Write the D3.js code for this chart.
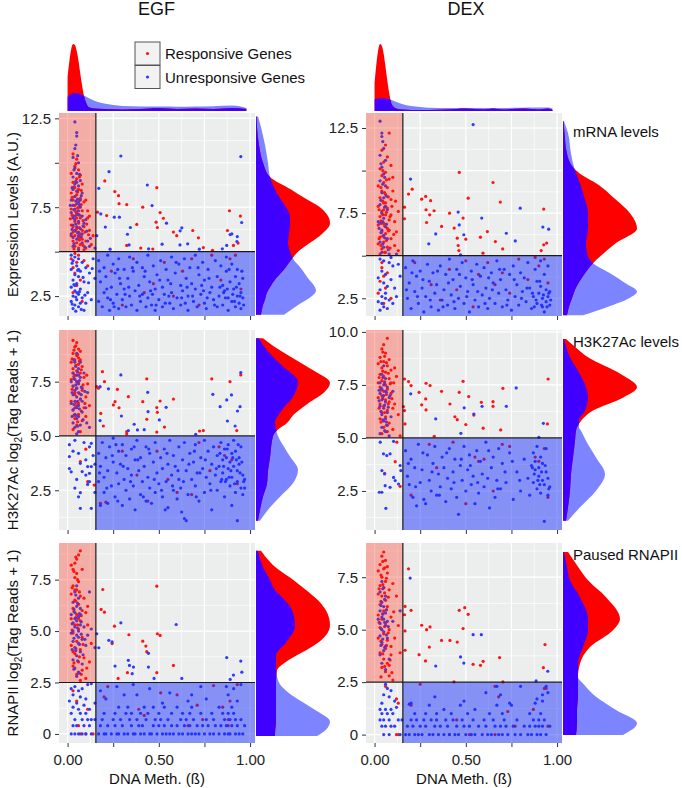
<!DOCTYPE html>
<html>
<head>
<meta charset="utf-8">
<script src="https://cdn.jsdelivr.net/npm/d3@7"></script>
<style>
  body { margin: 0; background: #fff; }
  svg text { font-family: "Liberation Sans", Arial, sans-serif; }
</style>
</head>
<body>
<div id="chart"></div>
<script>
// ---- data ----
var columns = ["EGF", "DEX"];
var rowLabels = ["mRNA levels", "H3K27Ac levels", "Paused RNAPII"];
var legendLabels = ["Responsive Genes", "Unresponsive Genes"];

var xTicks = [0, 0.25, 0.5, 0.75, 1];
var xTickLabels = ["0.00", "", "0.50", "", "1.00"];
var methThreshold = 0.155;

var mrnaTicks = [2.5, 5, 7.5, 10, 12.5];
var mrnaTickLabels = ["2.5", "", "7.5", "", "12.5"];
var egfH3Ticks = [2.5, 5, 7.5];
var egfH3TickLabels = ["2.5", "5.0", "7.5"];
var dexH3Ticks = [2.5, 5, 7.5, 10];
var dexH3TickLabels = ["2.5", "5.0", "7.5", "10.0"];
var polTicks = [0, 2.5, 5, 7.5];
var polTickLabels = ["0", "2.5", "5.0", "7.5"];

// scatter points "meth value" pairs
var egfMrnaRed = "0.03 10.5, 0.05 10.2, 0.04 9.8, 0.06 9.6, 0.02 9.4, 0.07 9.3, 0.05 9.1, 0.03 8.9, 0.08 8.8, 0.04 8.6, 0.06 8.5, 0.02 8.3, 0.05 8.2, 0.07 8.0, 0.03 7.9, 0.09 7.8, 0.04 7.6, 0.06 7.5, 0.02 7.4, 0.08 7.3, 0.05 7.2, 0.03 7.0, 0.07 6.9, 0.11 6.9, 0.04 6.7, 0.06 6.6, 0.02 6.5, 0.09 6.4, 0.05 6.3, 0.03 6.1, 0.07 6.0, 0.12 6.2, 0.04 5.9, 0.06 5.8, 0.08 5.7, 0.03 5.6, 0.05 5.5, 0.10 5.6, 0.07 5.4, 0.04 5.3, 0.13 5.4, 0.06 5.2, 0.09 5.1, 0.11 7.3, 0.10 7.9, 0.12 7.0, 0.08 6.2, 0.06 7.1, 0.04 8.1, 0.05 6.9, 0.03 6.4, 0.07 5.8, 0.02 5.9, 0.10 5.2, 0.14 5.9," +
  "0.045 9.95, 0.065 9.2, 0.035 8.65, 0.055 8.35, 0.075 7.65, 0.025 7.05, 0.085 6.75, 0.045 6.15, 0.065 5.65, 0.035 5.15, 0.095 6.1, 0.055 7.45, 0.015 6.85, 0.105 6.55, 0.075 8.45, 0.045 7.25, 0.065 6.35, 0.025 8.05, 0.085 5.35, 0.115 5.95," +
  "0.02 4.6, 0.05 4.4, 0.04 3.8, 0.07 3.4, 0.03 4.1, 0.06 4.8, 0.09 4.5, 0.05 3.1, 0.03 2.7, 0.08 2.2, 0.04 4.9, 0.11 4.2," +
  "0.204 8.98, 0.259 8.38, 0.279 8.15, 0.282 7.7, 0.324 7.65, 0.164 7.22, 0.214 7.03, 0.379 6.53, 0.412 7.5, 0.489 8.6, 0.485 6.66, 0.507 7.2, 0.525 6.88, 0.492 6.36, 0.58 6.1, 0.598 5.9, 0.686 6.19, 0.717 5.78, 0.744 5.23, 0.794 5.08, 0.876 6.19, 0.887 7.3, 0.947 7.0, 0.934 5.48, 0.909 5.35, 0.324 5.35, 0.401 5.2, 0.467 5.15," +
  "0.24 3.9, 0.3 2.0, 0.36 4.6, 0.42 2.7, 0.47 3.2, 0.53 4.4, 0.58 2.5, 0.63 3.9, 0.68 4.6, 0.72 2.0, 0.79 4.8, 0.84 3.4, 0.89 4.6, 0.92 4.8, 0.95 2.9";
var egfMrnaBlue = "0.04 12.3, 0.05 11.7, 0.05 11.5, 0.04 10.8, 0.03 10.3, 0.06 10.0, 0.04 9.7, 0.05 9.4, 0.03 9.2, 0.07 9.0, 0.04 8.8, 0.06 8.7, 0.03 8.5, 0.05 8.4, 0.08 8.3, 0.04 8.1, 0.02 7.9, 0.06 7.8, 0.05 7.7, 0.03 7.6, 0.07 7.5, 0.04 7.4, 0.06 7.3, 0.02 7.2, 0.05 7.1, 0.08 7.0, 0.03 6.9, 0.04 6.8, 0.06 6.7, 0.09 6.6, 0.03 6.5, 0.05 6.4, 0.07 6.3, 0.04 6.2, 0.02 6.0, 0.06 5.9, 0.05 5.7, 0.08 5.5, 0.03 5.3, 0.06 5.1, 0.11 5.6, 0.12 5.3, 0.15 5.2, 0.10 6.8, 0.07 7.9, 0.05 8.9, 0.04 7.0, 0.06 6.1, 0.03 5.8, 0.08 6.0," +
  "0.045 11.0, 0.055 10.4, 0.035 9.6, 0.065 9.35, 0.045 8.95, 0.025 8.6, 0.075 8.15, 0.055 7.95, 0.035 7.35, 0.065 7.05, 0.045 6.55, 0.085 6.45, 0.025 6.25, 0.055 6.05, 0.075 5.85, 0.035 5.45, 0.095 5.25, 0.065 7.65, 0.045 7.85, 0.105 6.15, 0.015 7.6, 0.125 5.75," +
  "0.02 4.8, 0.04 4.7, 0.06 4.6, 0.03 4.5, 0.08 4.4, 0.05 4.2, 0.10 4.1, 0.02 4.0, 0.07 3.9, 0.04 3.7, 0.12 3.8, 0.06 3.6, 0.03 3.4, 0.09 3.3, 0.05 3.2, 0.02 3.0, 0.07 2.9, 0.04 2.8, 0.11 2.7, 0.06 2.6, 0.03 2.5, 0.08 2.4, 0.05 2.3, 0.02 2.2, 0.10 2.1, 0.04 2.0, 0.06 1.9, 0.03 1.8, 0.13 2.3, 0.15 3.5, 0.14 4.6, 0.05 2.7, 0.07 2.1, 0.09 1.7, 0.04 3.1, 0.06 4.0," +
  "0.025 4.35, 0.055 3.95, 0.085 3.55, 0.035 3.15, 0.065 2.75, 0.045 2.45, 0.095 2.55, 0.025 2.05, 0.075 1.75, 0.115 3.25, 0.135 4.05, 0.045 1.65," +
  "0.292 10.38, 0.227 9.5, 0.171 8.56, 0.437 8.75, 0.463 7.59, 0.182 7.12, 0.256 6.94, 0.207 6.38, 0.344 6.36, 0.328 5.98, 0.542 6.6, 0.626 6.34, 0.617 6.17, 0.518 5.42, 0.616 5.38, 0.658 5.44, 0.722 5.14, 0.848 5.16, 0.872 5.35, 0.891 5.96, 0.9 6.0, 0.93 5.85, 0.928 5.57, 0.954 6.64, 0.949 10.35, 0.337 5.38, 0.16 5.9, 0.233 5.14, 0.444 5.16, 0.284 6.94," +
  "0.17 4.5, 0.17 2.2, 0.18 3.3, 0.19 1.9, 0.2 4.1, 0.2 2.7, 0.21 3.6, 0.22 4.8, 0.22 2.4, 0.23 1.7, 0.24 3.0, 0.25 4.3, 0.25 2.1, 0.26 3.8, 0.27 2.6, 0.28 4.6, 0.28 1.8, 0.29 3.2, 0.3 2.3, 0.31 4.0, 0.31 2.9, 0.32 1.9, 0.33 3.5, 0.34 4.7, 0.34 2.5, 0.35 2.0, 0.36 3.9, 0.37 2.8, 0.38 4.4, 0.38 1.7, 0.39 3.1, 0.4 2.2, 0.41 4.1, 0.41 2.6, 0.42 3.6, 0.43 1.9, 0.44 4.8, 0.44 2.4, 0.45 3.3, 0.46 2.0, 0.47 4.2, 0.48 2.9, 0.48 1.7, 0.49 3.7, 0.5 2.3, 0.51 4.5, 0.52 3.0, 0.52 1.9, 0.53 2.6, 0.54 4.0, 0.55 3.4, 0.56 2.1, 0.57 4.7, 0.57 2.7, 0.58 1.8, 0.59 3.8, 0.6 2.4, 0.61 4.3, 0.62 3.1, 0.62 2.0, 0.63 2.8, 0.64 4.6, 0.65 3.5, 0.66 1.7, 0.66 2.5, 0.67 4.1, 0.68 3.2, 0.69 2.2, 0.7 4.8, 0.7 2.9, 0.71 1.9, 0.72 3.7, 0.73 2.6, 0.74 4.4, 0.75 2.1, 0.75 3.4, 0.76 1.8, 0.77 4.0, 0.78 2.7, 0.79 3.0, 0.8 2.3, 0.81 4.5, 0.82 3.6, 0.82 1.9, 0.83 2.5, 0.84 4.2, 0.85 3.1, 0.85 2.0, 0.86 2.8, 0.87 4.7, 0.87 3.9, 0.88 2.4, 0.88 1.7, 0.89 3.3, 0.9 2.2, 0.9 4.3, 0.91 2.9, 0.92 3.6, 0.92 1.9, 0.93 2.5, 0.93 4.0, 0.94 3.2, 0.94 2.1, 0.95 2.7, 0.95 1.8, 0.96 2.4, 0.96 3.5," +
  "0.175 3.9, 0.215 2.9, 0.255 1.9, 0.285 3.5, 0.315 2.6, 0.355 4.1, 0.395 2.5, 0.425 3.9, 0.465 2.6, 0.505 3.4, 0.535 2.1, 0.565 3.2, 0.595 4.4, 0.625 2.4, 0.655 3.0, 0.685 2.5, 0.715 4.1, 0.745 2.8, 0.775 3.5, 0.805 2.0, 0.835 3.0, 0.865 2.4, 0.885 4.0, 0.905 2.6, 0.925 3.0, 0.945 2.5, 0.955 3.9, 0.965 2.0, 0.915 2.2, 0.875 2.9, 0.235 2.3, 0.335 3.0, 0.455 2.8, 0.555 2.5, 0.645 2.1, 0.735 3.1, 0.855 2.7, 0.275 4.0, 0.485 2.0, 0.765 2.4";

var egfH3Red = "0.03 9.4, 0.05 9.3, 0.04 9.1, 0.06 9.0, 0.03 8.8, 0.07 8.9, 0.05 8.7, 0.04 8.5, 0.02 8.4, 0.06 8.3, 0.08 8.2, 0.03 8.1, 0.05 8.0, 0.07 7.9, 0.04 7.8, 0.09 7.7, 0.02 7.6, 0.06 7.5, 0.03 7.3, 0.05 7.2, 0.08 7.1, 0.04 6.9, 0.07 6.7, 0.02 6.6, 0.05 6.4, 0.09 6.3, 0.03 6.2, 0.06 6.0, 0.04 5.8, 0.08 5.7, 0.05 5.5, 0.03 5.3, 0.07 5.2, 0.1 6.8, 0.11 7.4, 0.12 6.4, 0.06 8.6, 0.04 7.0, 0.06 6.5, 0.10 5.9, 0.03 7.9, 0.07 8.5," +
  "0.045 9.15, 0.035 8.95, 0.055 8.75, 0.025 8.55, 0.065 8.45, 0.045 8.25, 0.075 8.05, 0.035 7.75, 0.055 7.45, 0.085 7.35, 0.025 7.15, 0.065 6.95, 0.045 6.55, 0.075 6.15, 0.035 5.95, 0.055 5.65, 0.095 6.5, 0.105 7.8," +
  "0.07 3.82, 0.11 2.9, 0.146 2.74, 0.1 4.39," +
  "0.191 7.96, 0.202 7.5, 0.16 7.27, 0.169 7.2, 0.273 7.15, 0.333 6.81, 0.26 6.58, 0.251 6.43, 0.282 6.3, 0.182 6.04, 0.196 5.46, 0.324 5.2, 0.324 5.09, 0.412 6.58, 0.434 7.63, 0.434 5.77, 0.489 6.31, 0.492 6.09, 0.507 6.61, 0.531 5.41, 0.489 5.18, 0.58 6.7, 0.723 5.23, 0.744 5.25, 0.79 7.63, 0.89 7.5, 0.927 5.25, 0.949 7.81," +
  "0.18 1.9, 0.21 1.95, 0.3 4.3, 0.38 3.2, 0.44 2.0, 0.49 4.3, 0.55 3.0, 0.6 2.4, 0.68 2.3, 0.72 4.7, 0.78 3.4, 0.83 4.5, 0.86 4.1, 0.9 3.9, 0.93 2.8";
var egfH3Blue = "0.05 8.8, 0.04 8.4, 0.06 8.1, 0.03 7.9, 0.05 7.8, 0.07 7.7, 0.04 7.6, 0.02 7.5, 0.06 7.4, 0.03 7.3, 0.05 7.2, 0.08 7.2, 0.04 7.1, 0.06 7.0, 0.03 6.9, 0.05 6.8, 0.07 6.7, 0.04 6.6, 0.02 6.5, 0.06 6.4, 0.05 6.3, 0.03 6.2, 0.08 6.1, 0.04 6.0, 0.06 5.9, 0.05 5.8, 0.03 5.6, 0.07 5.5, 0.04 5.4, 0.06 5.2, 0.05 5.1, 0.11 7.0, 0.09 7.9, 0.1 6.3, 0.12 5.4, 0.07 8.4, 0.05 7.5, 0.04 6.3, 0.08 6.6, 0.06 7.8," +
  "0.045 8.2, 0.055 7.95, 0.035 7.65, 0.065 7.55, 0.045 7.35, 0.025 7.0, 0.075 6.9, 0.055 6.6, 0.035 6.45, 0.065 6.25, 0.045 5.95, 0.085 5.75, 0.055 5.45, 0.025 5.9, 0.095 7.05, 0.075 7.25, 0.105 5.6, 0.035 8.5," +
  "0.01 4.6, 0.01 4.05, 0.06 4.2, 0.07 3.74, 0.08 3.36, 0.01 3.5, 0.02 3.35, 0.10 3.9, 0.11 3.59, 0.12 3.28, 0.12 2.9, 0.13 3.59, 0.12 4.5, 0.13 4.66, 0.06 2.2, 0.07 2.39, 0.07 1.67, 0.13 1.67, 0.11 2.77, 0.1 3.2, 0.04 4.8, 0.03 4.3, 0.09 4.7, 0.05 3.0, 0.14 4.1, 0.15 3.7, 0.15 2.4, 0.04 2.6," +
  "0.178 7.27, 0.224 7.17, 0.292 7.81, 0.439 7.01, 0.441 6.12, 0.295 5.92, 0.365 5.54, 0.333 5.25, 0.383 5.28, 0.42 5.29, 0.503 5.74, 0.54 6.32, 0.702 5.08, 0.796 6.92, 0.836 6.35, 0.872 6.66, 0.898 6.89, 0.876 5.69, 0.918 5.46, 0.931 6.15, 0.945 6.35, 0.949 7.92, 0.178 5.71," +
  "0.17 4.2, 0.17 2.9, 0.18 3.6, 0.18 1.8, 0.19 4.7, 0.2 3.1, 0.2 2.4, 0.21 4.0, 0.22 3.4, 0.22 1.9, 0.23 4.5, 0.24 2.7, 0.25 3.8, 0.25 4.9, 0.26 2.2, 0.27 3.3, 0.28 4.3, 0.28 2.8, 0.29 3.7, 0.3 1.8, 0.3 4.6, 0.31 3.0, 0.32 2.5, 0.32 4.1, 0.33 3.5, 0.34 2.1, 0.35 4.4, 0.35 3.2, 0.36 2.7, 0.37 3.9, 0.37 1.6, 0.38 4.8, 0.39 3.4, 0.4 2.3, 0.4 4.0, 0.41 2.9, 0.42 3.6, 0.43 4.5, 0.43 2.0, 0.44 3.1, 0.45 2.6, 0.45 4.2, 0.46 1.9, 0.47 3.8, 0.48 2.4, 0.48 4.7, 0.49 3.3, 0.5 2.8, 0.51 4.0, 0.52 3.5, 0.52 2.2, 0.53 4.4, 0.54 2.9, 0.55 3.7, 0.55 1.7, 0.56 4.8, 0.57 3.2, 0.58 2.5, 0.58 4.1, 0.59 3.6, 0.6 2.1, 0.61 4.5, 0.61 3.0, 0.62 2.6, 0.63 3.9, 0.64 1.2, 0.65 1.1, 0.64 4.7, 0.65 3.4, 0.66 2.3, 0.67 4.2, 0.68 3.0, 0.69 3.8, 0.7 2.7, 0.7 4.6, 0.71 3.3, 0.72 2.0, 0.73 4.0, 0.74 3.5, 0.75 2.4, 0.75 4.8, 0.76 3.1, 0.77 4.3, 0.78 2.8, 0.79 1.6, 0.79 3.7, 0.8 4.5, 0.81 3.2, 0.82 2.5, 0.82 4.1, 0.83 3.6, 0.84 4.7, 0.84 2.9, 0.85 3.9, 0.85 3.3, 0.86 4.4, 0.86 2.2, 0.87 3.0, 0.87 4.0, 0.88 3.5, 0.88 4.6, 0.89 2.7, 0.89 3.8, 0.9 4.2, 0.9 3.1, 0.9 1.8, 0.91 3.6, 0.91 4.8, 0.92 2.4, 0.92 4.3, 0.93 3.4, 0.93 1.1, 0.93 2.9, 0.94 4.0, 0.94 3.7, 0.95 2.6, 0.95 4.5, 0.96 3.2, 0.96 2.3, 0.97 3.0, 0.97 2.6," +
  "0.175 3.3, 0.215 2.6, 0.245 4.1, 0.275 2.0, 0.305 3.6, 0.345 2.9, 0.385 3.9, 0.415 2.2, 0.445 4.4, 0.475 3.0, 0.515 2.5, 0.545 4.2, 0.575 2.7, 0.605 3.4, 0.635 2.9, 0.665 3.7, 0.695 4.3, 0.725 3.3, 0.755 3.9, 0.785 2.5, 0.815 3.5, 0.835 4.2, 0.855 3.6, 0.865 2.9, 0.875 4.4, 0.895 3.4, 0.905 4.0, 0.915 2.8, 0.925 3.9, 0.935 4.6, 0.945 3.3, 0.955 3.8, 0.965 2.9, 0.885 3.1, 0.845 3.0, 0.625 1.5, 0.535 1.6, 0.265 4.6, 0.365 4.5, 0.705 2.2";

var egfPolRed = "0.07 8.9, 0.06 8.7, 0.05 8.5, 0.04 8.3, 0.02 8.2, 0.03 8.0, 0.05 7.8, 0.04 7.6, 0.06 7.4, 0.03 7.2, 0.05 7.0, 0.02 6.8, 0.07 6.7, 0.04 6.5, 0.06 6.3, 0.03 6.1, 0.08 6.0, 0.05 5.8, 0.02 5.6, 0.07 5.5, 0.04 5.3, 0.1 5.9, 0.11 5.3, 0.06 5.1, 0.03 4.9, 0.08 4.7, 0.05 4.5, 0.02 4.3, 0.07 4.1, 0.04 3.9, 0.09 3.7, 0.06 3.5, 0.03 3.3, 0.08 3.1, 0.05 2.9, 0.1 2.7, 0.07 2.6, 0.12 3.5, 0.13 4.4, 0.09 6.6, 0.04 7.0, 0.06 5.6, 0.03 4.0, 0.11 6.2, 0.08 8.0," +
  "0.045 8.6, 0.035 7.9, 0.055 7.5, 0.025 7.1, 0.065 6.9, 0.045 6.45, 0.035 5.95, 0.075 5.75, 0.055 5.3, 0.025 5.05, 0.085 4.35, 0.045 4.15, 0.065 3.75, 0.035 3.45, 0.075 2.9, 0.105 3.2," +
  "0.03 2.1, 0.05 1.6, 0.06 0.4, 0.07 0, 0.11 1.2, 0.1 0, 0.14 0," +
  "0.193 7.02, 0.184 6.05, 0.202 5.92, 0.489 7.18, 0.257 5.24, 0.244 4.39, 0.336 4.82, 0.412 4.51, 0.429 4.27, 0.434 4.0, 0.492 4.87, 0.507 4.79, 0.58 3.33, 0.328 2.98, 0.277 2.7, 0.489 2.98," +
  "0.2 1.8, 0.22 2.3, 0.39 1.2, 0.42 0.9, 0.51 2.0, 0.6 1.9, 0.66 0.4, 0.71 1.4, 0.74 0.7, 0.8 2.35, 0.85 1.3, 0.88 0.7, 0.89 1.6, 0.93 2.4, 0.88 0.4";
var egfPolBlue = "0.05 7.2, 0.04 6.9, 0.06 6.6, 0.03 6.4, 0.05 6.2, 0.07 6.1, 0.04 5.9, 0.02 5.8, 0.06 5.7, 0.05 5.5, 0.03 5.4, 0.07 5.3, 0.04 5.2, 0.06 5.0, 0.02 4.9, 0.05 4.8, 0.08 4.6, 0.03 4.5, 0.06 4.4, 0.04 4.2, 0.07 4.0, 0.05 3.8, 0.03 3.6, 0.08 3.4, 0.04 3.2, 0.06 3.0, 0.05 2.8, 0.1 4.3, 0.12 6.9, 0.09 5.2, 0.11 4.8, 0.13 5.1, 0.07 5.8, 0.04 5.6, 0.06 4.7, 0.03 5.0, 0.15 4.2," +
  "0.045 6.75, 0.055 6.35, 0.035 6.05, 0.065 5.85, 0.045 5.65, 0.025 5.35, 0.055 5.15, 0.075 4.85, 0.035 4.65, 0.065 4.35, 0.045 4.05, 0.085 3.85, 0.055 3.55, 0.035 3.15, 0.065 2.95, 0.095 4.6, 0.025 4.1, 0.075 5.45," +
  "0.02 2.2, 0.04 2.3, 0.06 2.1, 0.08 2.2, 0.11 2.4, 0.13 2.45, 0.03 1.9, 0.07 1.8, 0.1 1.7, 0.01 1.6, 0.05 1.5, 0.09 1.4, 0.03 1.3, 0.06 1.2, 0.12 1.2, 0.02 1, 0.07 1, 0.1 1, 0.13 0.7, 0.04 0.7, 0.08 0.7, 0.11 0.7, 0.03 0.4, 0.05 0.4, 0.09 0.4, 0.12 0.4, 0.02 0, 0.04 0, 0.06 0, 0.08 0, 0.1 0, 0.13 0, 0.15 0.7, 0.15 1.5," +
  "0.16 4.87, 0.171 4.19, 0.226 4.55, 0.244 4.47, 0.292 5.4, 0.26 3.3, 0.333 3.58, 0.339 3.33, 0.361 3.25, 0.354 2.93, 0.443 3.25, 0.443 3.92, 0.474 2.7, 0.595 5.32, 0.626 2.7, 0.872 3.71, 0.949 3.54, 0.955 3.0, 0.909 2.86, 0.891 2.65," +
  "0.17 0, 0.2 0, 0.21 0, 0.24 0, 0.27 0, 0.28 0, 0.31 0, 0.33 0, 0.36 0, 0.37 0, 0.4 0, 0.42 0, 0.45 0, 0.46 0, 0.49 0, 0.52 0, 0.54 0, 0.56 0, 0.58 0, 0.61 0, 0.63 0, 0.66 0, 0.68 0, 0.7 0, 0.72 0, 0.75 0, 0.78 0, 0.8 0, 0.83 0, 0.86 0, 0.88 0, 0.89 0, 0.92 0, 0.94 0, 0.96 0," +
  "0.18 0.4, 0.22 0.4, 0.26 0.4, 0.3 0.4, 0.35 0.4, 0.39 0.4, 0.41 0.4, 0.47 0.4, 0.5 0.4, 0.53 0.4, 0.57 0.4, 0.6 0.4, 0.64 0.4, 0.67 0.4, 0.71 0.4, 0.74 0.4, 0.77 0.4, 0.81 0.4, 0.84 0.4, 0.87 0.4, 0.9 0.4, 0.93 0.4, 0.97 0.4," +
  "0.19 0.7, 0.25 0.7, 0.29 0.7, 0.34 0.7, 0.38 0.7, 0.43 0.7, 0.48 0.7, 0.51 0.7, 0.55 0.7, 0.62 0.7, 0.65 0.7, 0.69 0.7, 0.76 0.7, 0.8 0.7, 0.86 0.7, 0.89 0.7, 0.92 0.7, 0.95 0.7," +
  "0.2 1, 0.26 1, 0.32 1, 0.35 1, 0.4 1, 0.44 1, 0.5 1, 0.57 1, 0.63 1, 0.67 1, 0.73 1, 0.79 1, 0.85 1, 0.88 1, 0.91 1," +
  "0.28 1.3, 0.33 1.3, 0.42 1.3, 0.47 1.3, 0.53 1.3, 0.6 1.3, 0.68 1.3, 0.83 1.3, 0.9 1.3," +
  "0.18 2.1, 0.21 1.7, 0.27 2.3, 0.31 1.9, 0.36 2.4, 0.38 1.9, 0.45 2.2, 0.52 1.5, 0.56 2.0, 0.66 1.6, 0.68 1.9, 0.73 2.3, 0.76 1.7, 0.87 2.3, 0.88 1.9, 0.91 2.2, 0.93 1.6, 0.95 2.4";

var dexMrnaRed = "0.08 12.2, 0.06 11.5, 0.04 11.2, 0.07 10.8, 0.05 10.5, 0.09 10.3, 0.03 10.1, 0.06 9.9, 0.04 9.7, 0.08 9.5, 0.05 9.3, 0.02 9.1, 0.07 9.0, 0.04 8.8, 0.06 8.6, 0.03 8.4, 0.09 8.3, 0.05 8.1, 0.02 7.9, 0.07 7.8, 0.04 7.6, 0.06 7.4, 0.03 7.3, 0.08 7.1, 0.05 6.9, 0.02 6.8, 0.07 6.6, 0.04 6.4, 0.06 6.3, 0.03 6.1, 0.09 6.0, 0.05 5.8, 0.02 5.7, 0.07 5.5, 0.04 5.4, 0.06 5.2, 0.03 5.1, 0.11 7.0, 0.12 6.4, 0.13 7.6, 0.1 8.8, 0.11 5.6, 0.13 5.3, 0.08 6.5, 0.05 7.7, 0.1 9.6, 0.04 6.9, 0.06 8.1, 0.09 7.4," +
  "0.045 10.0, 0.065 9.45, 0.035 9.0, 0.055 8.7, 0.075 8.45, 0.045 8.2, 0.025 7.7, 0.065 7.55, 0.085 7.3, 0.035 7.05, 0.055 6.75, 0.075 6.45, 0.045 6.15, 0.025 6.0, 0.065 5.9, 0.035 5.6, 0.085 5.45, 0.055 5.2, 0.105 6.25, 0.095 7.9, 0.115 8.2, 0.045 7.4," +
  "0.04 4.6, 0.04 4.3, 0.05 3.8, 0.03 3.5, 0.06 3.1, 0.02 2.8, 0.07 4.0, 0.09 2.5, 0.05 2.2," +
  "0.464 9.89, 0.649 9.3, 0.186 8.62, 0.206 8.91, 0.258 8.32, 0.28 8.48, 0.307 8.23, 0.513 8.38, 0.689 8.15, 0.164 7.85, 0.282 7.7, 0.302 7.4, 0.326 7.64, 0.164 7.17, 0.285 6.95, 0.367 6.72, 0.411 7.5, 0.436 6.62, 0.485 7.21, 0.453 6.03, 0.458 5.6, 0.462 5.3, 0.5 5.97, 0.58 6.09, 0.618 6.42, 0.662 5.83, 0.702 5.4, 0.594 5.15, 0.927 7.74, 0.927 5.64, 0.943 5.74, 0.913 5.3," +
  "0.22 4.6, 0.31 3.3, 0.36 2.4, 0.41 4.2, 0.45 3.0, 0.5 4.7, 0.54 2.0, 0.57 3.9, 0.62 4.6, 0.66 3.3, 0.7 4.0, 0.74 2.8, 0.79 4.8, 0.84 3.6, 0.88 4.9, 0.9 4.4, 0.93 4.8, 0.95 3.4";
var dexMrnaBlue = "0.03 12.9, 0.04 12.2, 0.04 12.0, 0.05 11.3, 0.03 10.9, 0.06 10.6, 0.04 10.2, 0.05 9.8, 0.03 9.4, 0.06 9.1, 0.04 8.7, 0.05 8.4, 0.03 8.0, 0.07 7.7, 0.04 7.5, 0.05 7.2, 0.03 6.9, 0.06 6.7, 0.04 6.5, 0.05 6.2, 0.07 6.0, 0.03 5.8, 0.05 5.5, 0.04 5.2, 0.08 5.1, 0.12 5.1, 0.06 7.9, 0.02 7.0," +
  "0.045 11.7, 0.035 10.4, 0.055 9.6, 0.045 9.2, 0.065 8.5, 0.035 8.25, 0.055 7.85, 0.045 7.0, 0.065 6.85, 0.035 6.35, 0.055 6.05, 0.045 5.7, 0.075 5.35, 0.025 6.6," +
  "0.03 4.8, 0.05 4.7, 0.08 4.6, 0.1 4.4, 0.04 4.1, 0.06 3.9, 0.02 3.7, 0.09 3.6, 0.05 3.4, 0.07 3.2, 0.03 3.0, 0.11 3.1, 0.06 2.8, 0.04 2.6, 0.08 2.4, 0.02 2.3, 0.1 2.2, 0.05 2.0, 0.07 1.9, 0.03 1.8, 0.12 2.6, 0.14 3.8, 0.13 4.5, 0.06 2.5, 0.04 2.2, 0.09 4.9," +
  "0.54 12.7, 0.197 9.5, 0.458 7.56, 0.464 6.81, 0.489 6.23, 0.587 7.21, 0.722 6.32, 0.771 5.87, 0.798 7.79, 0.922 6.68, 0.954 6.56, 0.335 6.28, 0.297 5.7, 0.471 5.05," +
  "0.17 4.3, 0.18 2.5, 0.19 3.4, 0.2 1.9, 0.21 4.7, 0.22 2.9, 0.23 3.8, 0.24 2.2, 0.25 4.1, 0.26 3.1, 0.27 1.7, 0.28 2.6, 0.29 4.5, 0.3 3.5, 0.31 2.0, 0.32 4.0, 0.33 2.8, 0.34 3.3, 0.35 1.8, 0.36 4.4, 0.37 2.4, 0.38 3.0, 0.39 3.9, 0.4 2.1, 0.41 4.8, 0.42 2.7, 0.43 3.6, 0.44 1.9, 0.45 4.2, 0.46 2.5, 0.47 3.2, 0.48 4.6, 0.49 2.2, 0.5 3.7, 0.51 2.9, 0.52 1.7, 0.53 4.1, 0.54 3.3, 0.55 2.4, 0.56 4.5, 0.57 2.0, 0.58 3.8, 0.59 2.7, 0.6 4.3, 0.61 3.1, 0.62 1.9, 0.63 2.5, 0.64 4.0, 0.65 3.4, 0.66 2.2, 0.67 4.7, 0.68 2.8, 0.69 3.6, 0.7 2.0, 0.71 4.2, 0.72 3.0, 0.73 2.4, 0.74 3.9, 0.75 1.8, 0.76 4.4, 0.77 2.6, 0.78 3.3, 0.79 2.1, 0.8 4.0, 0.81 2.9, 0.82 3.7, 0.83 2.3, 0.84 4.6, 0.85 3.1, 0.86 1.9, 0.87 2.6, 0.88 4.2, 0.89 3.5, 0.89 2.2, 0.9 2.8, 0.91 4.7, 0.91 3.2, 0.92 2.0, 0.92 2.5, 0.93 3.9, 0.93 1.7, 0.94 2.3, 0.94 3.0, 0.95 2.6, 0.95 4.4, 0.96 2.1, 0.96 2.9," +
  "0.175 3.0, 0.205 4.0, 0.235 2.6, 0.265 3.6, 0.305 2.4, 0.345 4.1, 0.375 2.0, 0.405 3.4, 0.435 2.3, 0.465 3.9, 0.505 2.6, 0.535 3.6, 0.565 2.9, 0.605 2.2, 0.645 3.0, 0.685 4.2, 0.725 2.1, 0.765 3.6, 0.805 2.5, 0.835 3.1, 0.865 2.8, 0.885 2.4, 0.905 3.5, 0.925 2.7, 0.945 2.0, 0.955 2.8, 0.965 2.4, 0.915 2.1, 0.875 2.0, 0.625 3.7";

var dexH3Red = "0.07 9.7, 0.05 9.4, 0.04 9.2, 0.06 9.0, 0.03 8.8, 0.08 8.7, 0.05 8.6, 0.02 8.5, 0.07 8.4, 0.04 8.3, 0.09 8.2, 0.06 8.1, 0.03 8.0, 0.05 7.9, 0.08 7.8, 0.04 7.7, 0.02 7.6, 0.06 7.5, 0.03 7.4, 0.07 7.3, 0.05 7.2, 0.09 7.1, 0.04 7.0, 0.02 6.9, 0.06 6.8, 0.08 6.7, 0.03 6.6, 0.05 6.5, 0.07 6.3, 0.04 6.2, 0.1 6.4, 0.06 6.0, 0.03 5.9, 0.08 5.7, 0.05 5.5, 0.07 5.3, 0.04 5.2, 0.12 7.9, 0.11 6.6, 0.13 6.1, 0.1 5.4, 0.14 5.1, 0.11 8.3, 0.09 7.6," +
  "0.045 9.05, 0.055 8.85, 0.035 8.6, 0.065 8.55, 0.045 8.15, 0.075 8.05, 0.025 7.85, 0.055 7.65, 0.085 7.55, 0.035 7.25, 0.065 7.05, 0.045 6.85, 0.075 6.6, 0.025 6.4, 0.055 6.2, 0.035 5.75, 0.095 6.85, 0.105 7.6, 0.065 5.6," +
  "0.055 3.33, 0.113 3.88, 0.14 2.72, 0.122 4.8," +
  "0.164 7.78, 0.186 7.66, 0.2 7.47, 0.244 7.15, 0.282 7.58, 0.304 7.47, 0.367 7.2, 0.28 6.84, 0.258 6.56, 0.282 6.32, 0.158 6.48, 0.164 6.29, 0.167 5.66, 0.413 6.6, 0.464 7.15, 0.485 7.67, 0.516 6.95, 0.44 6.0, 0.453 5.86, 0.5 5.63, 0.544 6.08, 0.585 6.68, 0.595 5.46, 0.649 6.71, 0.649 6.49, 0.703 7.34, 0.691 5.38, 0.951 7.78, 0.947 5.66, 0.327 5.08," +
  "0.2 2.3, 0.3 4.7, 0.34 3.6, 0.43 4.8, 0.5 1.9, 0.55 4.1, 0.57 3.9, 0.6 4.0, 0.65 2.5, 0.7 4.7, 0.74 4.6, 0.88 4.1, 0.9 3.9, 0.93 4.5, 0.95 2.2";
var dexH3Blue = "0.05 8.4, 0.04 8.0, 0.06 7.8, 0.03 7.6, 0.05 7.5, 0.07 7.4, 0.04 7.3, 0.06 7.2, 0.03 7.1, 0.05 7.0, 0.08 6.9, 0.04 6.8, 0.06 6.7, 0.03 6.5, 0.05 6.4, 0.07 6.2, 0.04 6.1, 0.06 5.9, 0.05 5.8, 0.07 5.6, 0.04 5.5, 0.06 5.3, 0.03 5.2, 0.08 5.1, 0.09 6.0, 0.1 7.2," +
  "0.045 7.85, 0.055 7.6, 0.035 7.35, 0.065 7.15, 0.045 6.95, 0.025 6.75, 0.055 6.55, 0.075 6.45, 0.035 6.25, 0.045 5.85, 0.065 5.75, 0.055 5.35, 0.085 7.0, 0.025 7.25," +
  "0.031 4.8, 0.049 4.25, 0.067 4.17, 0.085 4.25, 0.04 3.46, 0.055 3.3, 0.104 3.14, 0.113 2.99, 0.14 3.7, 0.144 3.46, 0.026 2.44, 0.04 2.44, 0.058 2.75, 0.085 2.67, 0.131 2.83, 0.062 1.68, 0.104 4.84," +
  "0.198 7.08, 0.335 5.9, 0.491 6.42, 0.544 6.13, 0.589 6.49, 0.722 6.49, 0.776 7.36, 0.473 5.22, 0.925 5.69, 0.9 5.03," +
  "0.17 4.4, 0.18 3.2, 0.19 2.8, 0.2 4.0, 0.21 2.2, 0.22 3.6, 0.23 1.8, 0.24 4.7, 0.25 2.9, 0.26 3.5, 0.27 2.1, 0.28 1.9, 0.29 4.2, 0.3 3.0, 0.31 2.5, 0.32 3.8, 0.33 4.6, 0.34 2.3, 0.35 3.3, 0.36 2.7, 0.37 4.1, 0.38 3.6, 0.39 2.0, 0.4 3.1, 0.41 4.5, 0.42 2.6, 0.43 3.4, 0.44 4.0, 0.45 2.2, 0.46 1.4, 0.47 3.7, 0.48 3.0, 0.49 4.6, 0.5 2.5, 0.51 3.5, 0.52 4.2, 0.53 2.8, 0.54 3.2, 0.55 1.9, 0.56 4.4, 0.57 2.4, 0.58 3.9, 0.59 3.3, 0.6 2.7, 0.61 4.8, 0.62 3.1, 0.63 1.7, 0.64 3.6, 0.65 4.1, 0.66 2.2, 0.67 3.0, 0.68 4.5, 0.69 2.6, 0.7 3.8, 0.72 2.9, 0.74 4.3, 0.76 2.1, 0.78 3.4, 0.8 2.5, 0.82 4.0, 0.84 3.1, 0.85 2.3, 0.86 3.7, 0.87 4.3, 0.87 2.9, 0.88 3.5, 0.88 3.9, 0.89 2.6, 0.89 4.6, 0.9 3.2, 0.9 3.6, 0.91 2.4, 0.91 4.1, 0.92 3.0, 0.92 3.8, 0.93 1.07, 0.93 2.8, 0.94 3.4, 0.94 4.5, 0.95 2.3, 0.95 3.1, 0.96 2.7," +
  "0.185 3.8, 0.225 2.7, 0.265 4.3, 0.315 3.4, 0.355 2.3, 0.395 4.3, 0.435 2.9, 0.475 4.0, 0.525 3.7, 0.565 2.9, 0.625 4.4, 0.675 2.6, 0.715 3.4, 0.755 3.9, 0.795 3.0, 0.875 3.3, 0.895 3.0, 0.915 3.4, 0.935 3.7, 0.955 2.6, 0.865 3.6, 0.905 2.8";

var dexPolRed = "0.05 8.7, 0.04 8.5, 0.06 8.3, 0.03 8.1, 0.05 7.9, 0.02 7.8, 0.07 7.7, 0.04 7.5, 0.06 7.3, 0.03 7.1, 0.05 7.0, 0.08 6.9, 0.02 6.7, 0.04 6.6, 0.06 6.4, 0.03 6.2, 0.07 6.1, 0.05 5.9, 0.02 5.7, 0.09 5.6, 0.04 5.5, 0.06 5.3, 0.03 5.1, 0.08 5.0, 0.05 4.8, 0.02 4.6, 0.07 4.5, 0.04 4.3, 0.06 4.1, 0.03 3.9, 0.09 3.8, 0.05 3.6, 0.07 3.4, 0.04 3.2, 0.06 3.0, 0.08 2.8, 0.1 2.6, 0.11 4.6, 0.13 5.2, 0.12 6.6, 0.1 7.2, 0.09 4.2, 0.14 3.9, 0.07 8.0, 0.08 3.3," +
  "0.045 8.25, 0.055 7.95, 0.035 7.6, 0.065 7.45, 0.045 7.15, 0.025 6.95, 0.055 6.75, 0.075 6.55, 0.035 6.35, 0.065 5.95, 0.045 5.75, 0.025 5.35, 0.055 5.15, 0.075 4.85, 0.035 4.45, 0.065 4.25, 0.045 3.85, 0.085 3.55, 0.055 3.25, 0.095 2.95, 0.035 2.75, 0.105 5.85," +
  "0.06 2.3, 0.12 1.7, 0.13 1.5, 0.12 0, 0.13 0," +
  "0.186 7.9, 0.164 5.71, 0.2 5.92, 0.167 6.11, 0.167 4.94, 0.167 4.02, 0.244 3.81, 0.258 5.21, 0.285 5.0, 0.304 5.13, 0.279 3.51, 0.3 4.17, 0.367 4.49, 0.413 4.49, 0.453 4.41, 0.464 5.92, 0.485 5.05, 0.494 6.05, 0.513 5.73, 0.54 3.35, 0.58 3.3, 0.595 3.49, 0.685 3.67, 0.435 2.51, 0.703 2.51, 0.934 4.29, 0.925 3.19," +
  "0.2 1.4, 0.25 2.4, 0.41 0, 0.45 0.7, 0.52 0, 0.66 2.3, 0.66 0, 0.68 1.8, 0.73 1.1, 0.77 0.4, 0.87 1.2, 0.93 2.2, 0.94 2.2, 0.95 0.4";
var dexPolBlue = "0.04 7.3, 0.05 7.0, 0.03 6.8, 0.06 6.6, 0.04 6.3, 0.05 6.1, 0.03 5.9, 0.06 5.8, 0.04 5.6, 0.05 5.5, 0.07 5.4, 0.03 5.3, 0.06 5.2, 0.04 5.0, 0.05 4.9, 0.03 4.7, 0.07 4.6, 0.04 4.4, 0.06 4.2, 0.05 4.0, 0.03 3.8, 0.08 3.6, 0.04 3.4, 0.06 3.1, 0.1 5.4, 0.14 5.9, 0.02 5.5," +
  "0.045 6.95, 0.055 6.45, 0.035 6.15, 0.065 5.95, 0.045 5.75, 0.055 5.35, 0.035 5.05, 0.065 4.75, 0.045 4.55, 0.055 4.15, 0.035 4.25, 0.075 5.15," +
  "0.06 2.4, 0.07 2.2, 0.09 2.1, 0.05 1.9, 0.08 1.8, 0.11 1.6, 0.04 1.5, 0.06 1.2, 0.09 1.2, 0.03 1.2, 0.12 1.3, 0.04 1, 0.07 1, 0.1 1, 0.03 0.7, 0.05 0.7, 0.08 0.7, 0.13 0.7, 0.04 0.4, 0.06 0.4, 0.09 0.4, 0.11 0.4, 0.05 0, 0.08 0, 0.14 0, 0.15 0.7," +
  "0.195 7.46, 0.335 3.27, 0.471 3.7, 0.489 3.41, 0.54 4.76, 0.585 4.76, 0.949 3.02, 0.885 2.56," +
  "0.17 0, 0.19 0, 0.22 0, 0.24 0, 0.26 0, 0.3 0, 0.32 0, 0.35 0, 0.38 0, 0.41 0, 0.44 0, 0.46 0, 0.5 0, 0.53 0, 0.55 0, 0.59 0, 0.62 0, 0.64 0, 0.68 0, 0.7 0, 0.73 0, 0.77 0, 0.8 0, 0.84 0, 0.86 0, 0.89 0, 0.91 0, 0.94 0," +
  "0.18 0.4, 0.21 0.4, 0.25 0.4, 0.28 0.4, 0.33 0.4, 0.36 0.4, 0.4 0.4, 0.45 0.4, 0.49 0.4, 0.52 0.4, 0.57 0.4, 0.61 0.4, 0.66 0.4, 0.69 0.4, 0.72 0.4, 0.76 0.4, 0.82 0.4, 0.85 0.4, 0.88 0.4, 0.9 0.4, 0.92 0.4, 0.96 0.4," +
  "0.2 0.7, 0.23 0.7, 0.27 0.7, 0.31 0.7, 0.34 0.7, 0.39 0.7, 0.43 0.7, 0.48 0.7, 0.54 0.7, 0.6 0.7, 0.65 0.7, 0.71 0.7, 0.78 0.7, 0.87 0.7, 0.9 0.7, 0.93 0.7," +
  "0.22 1, 0.28 1, 0.34 1, 0.42 1, 0.51 1, 0.63 1, 0.7 1, 0.85 1, 0.91 1," +
  "0.19 1.45, 0.3 1.4, 0.38 1.2, 0.47 1.4, 0.55 1.2, 0.67 1.4, 0.75 1.4, 0.88 1.5, 0.92 1.6," +
  "0.2 1.5, 0.33 1.8, 0.49 1.6, 0.61 2.0, 0.67 2.3, 0.69 1.9, 0.74 1.5, 0.8 2.3, 0.89 1.7, 0.92 1.9, 0.94 2.3, 0.95 2.0";

// marginal densities [position, density]
var egfTopRed = [[0,34],[0.01,50],[0.02,62],[0.03,67],[0.04,66],[0.05,60],[0.06,50],[0.07,37],[0.08,25],[0.09,15],[0.1,9],[0.11,5],[0.12,3.5],[0.15,2.5],[0.2,2],[0.3,1.5],[0.4,2],[0.5,3],[0.6,2],[0.7,2.5],[0.8,2],[0.9,3],[0.98,2]];
var egfTopBlue = [[0,14],[0.02,17],[0.04,18],[0.06,17.5],[0.08,16],[0.1,14.5],[0.12,12.5],[0.15,10],[0.2,7.5],[0.25,6],[0.3,5],[0.4,4.5],[0.5,4.5],[0.6,4.3],[0.7,4.5],[0.8,4.8],[0.9,5.5],[0.95,4.5],[0.98,3]];
var dexTopRed = [[0,28],[0.01,47],[0.02,61],[0.03,67],[0.04,65],[0.05,57],[0.06,44],[0.07,30],[0.08,18],[0.09,9],[0.1,5],[0.12,2.5],[0.15,1.5],[0.2,1],[0.3,1],[0.4,1.5],[0.5,2.5],[0.6,1.5],[0.65,2.5],[0.7,1.5],[0.82,2.5],[0.9,1.5],[0.95,2.5],[0.975,1]];
var dexTopBlue = [[0,12],[0.02,12.5],[0.04,12.8],[0.06,12.5],[0.08,12],[0.1,10.5],[0.12,9],[0.15,7],[0.2,5],[0.25,4],[0.3,3.2],[0.4,3],[0.5,3],[0.6,3],[0.7,3],[0.8,3.2],[0.9,3.5],[0.95,3.5],[0.975,2.5]];

var egfMrnaRedD = [[12.6,0.5],[12,1],[11,3],[10,7],[9.2,14],[8.5,35],[8,49],[7.5,64],[7,72],[6.6,74],[6,66],[5.5,54],[5,42],[4.6,36],[4,28],[3.5,20],[3,14],[2.7,11],[2.3,9],[2,7],[1.45,5]];
var egfMrnaBlueD = [[12.6,2],[12,5],[11,9],[10,12],[9.2,14],[8.5,19],[8,24],[7.5,30],[7,34],[6.6,34],[6,33],[5.5,32],[5,34],[4.6,37],[4,46],[3.5,52],[3,59],[2.8,60],[2.5,56],[2,42],[1.45,28]];
var egfH3RedD = [[9.5,7],[9,22],[8.5,40],[8,58],[7.45,74],[7,68],[6.5,52],[6,38],[5.6,31],[5.3,22],[5,17],[4,14],[3.4,12],[2.8,11],[2.2,7],[1.6,4],[1.1,2]];
var egfH3BlueD = [[9.5,3],[9,10],[8.65,17],[8.2,27],[7.5,42],[6.8,37],[6.2,26],[5.6,19],[5.3,20],[5,22],[4.5,28],[4.05,34],[3.43,42],[2.82,37],[2.2,24],[1.6,12],[1.1,4]];
var egfPolRedD = [[8.9,5],[8,22],[7.5,37],[7,50],[6.5,62],[6,70],[5.3,74],[4.8,70],[4.3,58],[3.8,40],[3.4,27],[3.1,21],[2.5,20],[1.8,20],[1.2,20],[0.6,20],[0,19],[-0.1,19]];
var egfPolBlueD = [[8.9,2],[8,8],[7.5,14],[7,19],[6.7,25],[5.9,37],[5.24,39],[4.44,30],[3.8,20],[3.14,20],[2.5,23],[1.84,37],[1.2,58],[0.6,74],[0.2,70],[-0.1,61]];
var dexMrnaRedD = [[12.9,0.5],[12.2,1.5],[11,4],[10.2,10],[9.7,20],[9.26,33],[8.28,53],[7.5,67],[6.6,74],[5.74,53],[4.95,37],[4.56,30],[3.97,22],[3,12],[2.5,9],[2,6],[1.5,4]];
var dexMrnaBlueD = [[12.9,1],[12.2,5],[11,8],[10.2,11],[9.7,14],[9.26,17],[8.28,22],[7.5,25],[6.6,25],[5.74,23],[4.95,25],[4.56,30],[3.97,47],[3.4,62],[2.9,74],[2.5,66],[2,45],[1.5,20]];
var dexH3RedD = [[9.67,3],[9.3,12],[8.8,25],[8,58],[7.39,74],[6.9,60],[6.29,30],[5.8,18],[5.5,14],[5.34,13],[4.87,12],[4.08,10],[3.3,8],[2.51,7],[1.73,5],[1.1,3]];
var dexH3BlueD = [[9.67,1],[9.3,3],[8.8,7],[8,17],[7.39,23],[6.9,25],[6.29,22],[5.8,16],[5.5,16],[5.34,18],[4.87,23],[4.08,33],[3.3,42],[2.51,33],[1.73,17],[1.1,5]];
var dexPolRedD = [[8.7,5],[8,15],[7.35,25],[6.55,43],[5.52,57],[4.97,50],[4.17,27],[3.38,17],[2.74,15],[2.43,15],[1.8,15],[1.17,14],[0.54,14],[-0.02,13]];
var dexPolBlueD = [[8.7,1],[8,4],[7.35,7],[6.55,17],[5.52,25],[4.97,25],[4.17,20],[3.38,15],[2.74,15],[2.43,20],[1.8,33],[1.17,53],[0.54,74],[-0.02,60]];

// ---- layout ----
var colLayout = [
    { x0: 59,  x1: 255, margX: 256, titleX: 156.5 },
    { x0: 366, x1: 562, margX: 563, titleX: 466 }
];
var rowLayout = [ { y0: 113, y1: 316 }, { y0: 330, y1: 530 }, { y0: 543, y1: 743 } ];
var xDomain = [-0.047, 1.027];

var RED = "#ff1414", BLUE = "#2e3bff", DARK = "#4000ff", LIGHT = "#7c84ff";
var PANEL_BG = "#eceeee";

var parsePts = function(s) {
    return s.split(",").map(function(p) { return p.trim().split(/\s+/).map(Number); });
};

var panels = [
    { col: 0, row: 0, yDomain: [1.38, 12.8], ticks: mrnaTicks, labels: mrnaTickLabels, thr: 5, red: egfMrnaRed, blue: egfMrnaBlue, dRed: egfMrnaRedD, dBlue: egfMrnaBlueD },
    { col: 0, row: 1, yDomain: [0.67, 9.88], ticks: egfH3Ticks, labels: egfH3TickLabels, thr: 5, red: egfH3Red, blue: egfH3Blue, dRed: egfH3RedD, dBlue: egfH3BlueD },
    { col: 0, row: 2, yDomain: [-0.44, 9.28], ticks: polTicks, labels: polTickLabels, thr: 2.5, red: egfPolRed, blue: egfPolBlue, dRed: egfPolRedD, dBlue: egfPolBlueD },
    { col: 1, row: 0, yDomain: [1.46, 13.38], ticks: mrnaTicks, labels: mrnaTickLabels, thr: 5, red: dexMrnaRed, blue: dexMrnaBlue, dRed: dexMrnaRedD, dBlue: dexMrnaBlueD },
    { col: 1, row: 1, yDomain: [0.66, 10.09], ticks: dexH3Ticks, labels: dexH3TickLabels, thr: 5, red: dexH3Red, blue: dexH3Blue, dRed: dexH3RedD, dBlue: dexH3BlueD },
    { col: 1, row: 2, yDomain: [-0.40, 9.13], ticks: polTicks, labels: polTickLabels, thr: 2.5, red: dexPolRed, blue: dexPolBlue, dRed: dexPolRedD, dBlue: dexPolBlueD }
];

var svg = d3.select("#chart").append("svg")
    .attr("width", 682)
    .attr("height", 788);

// density width scale (right marginals) and height scale (top marginals)
var densW = d3.scaleLinear().domain([0, 74]).range([0, 74]);
var densH = d3.scaleLinear().domain([0, 67]).range([111, 44]);

var clipId = 0;
// light blue full, red full, dark overlap (blue clipped by red)
var drawDensity = function(g, redPath, bluePath) {
    var id = "clip" + (clipId++);
    g.append("clipPath").attr("id", id).append("path").attr("d", redPath);
    g.append("path").attr("d", bluePath).attr("fill", LIGHT);
    g.append("path").attr("d", redPath).attr("fill", "#ff0000");
    g.append("path").attr("d", bluePath).attr("fill", DARK).attr("clip-path", "url(#" + id + ")");
};

var minorOf = function(ticks, step, domain) {
    var out = [];
    ticks.forEach(function(t) { out.push(t - step / 2); });
    out.push(ticks[ticks.length - 1] + step / 2);
    return out.filter(function(v) { return v > domain[0] && v < domain[1]; });
};

panels.forEach(function(p) {
    var c = colLayout[p.col], r = rowLayout[p.row];
    var x = d3.scaleLinear().domain(xDomain).range([c.x0, c.x1]);
    var y = d3.scaleLinear().domain(p.yDomain).range([r.y1, r.y0]);
    var g = svg.append("g");

    // background + grid
    g.append("rect").attr("x", c.x0).attr("y", r.y0)
        .attr("width", c.x1 - c.x0).attr("height", r.y1 - r.y0).attr("fill", PANEL_BG);
    minorOf(xTicks, 0.25, xDomain).forEach(function(v) {
        g.append("line").attr("x1", x(v)).attr("x2", x(v)).attr("y1", r.y0).attr("y2", r.y1)
            .attr("stroke", "#fff").attr("stroke-width", 0.6);
    });
    minorOf(p.ticks, 2.5, p.yDomain).forEach(function(v) {
        g.append("line").attr("x1", c.x0).attr("x2", c.x1).attr("y1", y(v)).attr("y2", y(v))
            .attr("stroke", "#fff").attr("stroke-width", 0.6);
    });
    xTicks.forEach(function(v) {
        g.append("line").attr("x1", x(v)).attr("x2", x(v)).attr("y1", r.y0).attr("y2", r.y1)
            .attr("stroke", "#fff").attr("stroke-width", 1.2);
    });
    p.ticks.forEach(function(v) {
        g.append("line").attr("x1", c.x0).attr("x2", c.x1).attr("y1", y(v)).attr("y2", y(v))
            .attr("stroke", "#fff").attr("stroke-width", 1.2);
    });

    // points: responsive first, unresponsive on top
    g.selectAll(".red").data(parsePts(p.red)).enter().append("circle")
        .attr("cx", function(d) { return x(d[0]); })
        .attr("cy", function(d) { return y(d[1]); })
        .attr("r", 1.6).attr("fill", RED);
    g.selectAll(".blue").data(parsePts(p.blue)).enter().append("circle")
        .attr("cx", function(d) { return x(d[0]); })
        .attr("cy", function(d) { return y(d[1]); })
        .attr("r", 1.6).attr("fill", BLUE);

    // quadrant shading
    g.append("rect").attr("x", c.x0).attr("y", r.y0)
        .attr("width", x(methThreshold) - c.x0).attr("height", y(p.thr) - r.y0)
        .attr("fill", "#ff1a00").attr("fill-opacity", 0.3);
    g.append("rect").attr("x", x(methThreshold)).attr("y", y(p.thr))
        .attr("width", c.x1 - x(methThreshold)).attr("height", r.y1 - y(p.thr))
        .attr("fill", "#1428ff").attr("fill-opacity", 0.47);

    // threshold lines
    g.append("line").attr("x1", x(methThreshold)).attr("x2", x(methThreshold))
        .attr("y1", r.y0).attr("y2", r.y1).attr("stroke", "#1a1a1a").attr("stroke-width", 1.2);
    g.append("line").attr("x1", c.x0).attr("x2", c.x1)
        .attr("y1", y(p.thr)).attr("y2", y(p.thr)).attr("stroke", "#1a1a1a").attr("stroke-width", 1.2);

    // axes
    var yAxis = d3.axisLeft(y).tickValues(p.ticks)
        .tickFormat(function(d, i) { return p.labels[i]; })
        .tickSize(4).tickPadding(4);
    var ya = g.append("g").attr("transform", "translate(" + c.x0 + ",0)").call(yAxis);
    var isBottom = p.row === 2;
    var xAxis = d3.axisBottom(x).tickValues(xTicks)
        .tickFormat(function(d, i) { return isBottom ? xTickLabels[i] : ""; })
        .tickSize(4).tickPadding(7);
    var xa = g.append("g").attr("transform", "translate(0," + r.y1 + ")").call(xAxis);
    [ya, xa].forEach(function(a) {
        a.select(".domain").remove();
        a.selectAll("line").attr("stroke", "#333");
        a.selectAll("text").attr("font-size", 15).attr("fill", "#222")
            .attr("font-family", "Liberation Sans, Arial, sans-serif");
    });

    // right marginal density
    var base = c.margX;
    var area = d3.area().curve(d3.curveMonotoneY)
        .y(function(d) { return y(d[0]); })
        .x0(base)
        .x1(function(d) { return base + densW(d[1]); });
    drawDensity(svg.append("g"), area(p.dRed), area(p.dBlue));
});

// top marginal densities
[[egfTopRed, egfTopBlue], [dexTopRed, dexTopBlue]].forEach(function(pair, i) {
    var c = colLayout[i];
    var x = d3.scaleLinear().domain(xDomain).range([c.x0, c.x1]);
    var area = d3.area().curve(d3.curveMonotoneX)
        .x(function(d) { return x(d[0]); })
        .y0(densH(0))
        .y1(function(d) { return densH(d[1]); });
    drawDensity(svg.append("g"), area(pair[0]), area(pair[1]));
});

// column titles
columns.forEach(function(name, i) {
    svg.append("text").attr("x", colLayout[i].titleX).attr("y", 15)
        .attr("text-anchor", "middle").attr("font-size", 18).attr("fill", "#111").text(name);
});

// row labels on the right
var rowLabelY = [137, 347, 560];
rowLabels.forEach(function(t, i) {
    svg.append("text").attr("x", 573).attr("y", rowLabelY[i])
        .attr("font-size", 15).attr("fill", "#111").text(t);
});

// y axis titles
var yTitles = [
    { main: "Expression Levels (A.U.)" },
    { pre: "H3K27Ac log", post: "(Tag Reads + 1)" },
    { pre: "RNAPII log", post: "(Tag Reads + 1)" }
];
yTitles.forEach(function(t, i) {
    var r = rowLayout[i];
    var txt = svg.append("text")
        .attr("transform", "translate(18," + ((r.y0 + r.y1) / 2) + ") rotate(-90)")
        .attr("text-anchor", "middle").attr("font-size", 15).attr("fill", "#111");
    if (t.main) {
        txt.text(t.main);
    } else {
        txt.append("tspan").text(t.pre);
        txt.append("tspan").attr("font-size", 10).attr("dy", 4).text("2");
        txt.append("tspan").attr("dy", -4).text(t.post);
    }
});

// x axis titles
colLayout.forEach(function(c) {
    svg.append("text").attr("x", (c.x0 + c.x1) / 2).attr("y", 784)
        .attr("text-anchor", "middle").attr("font-size", 15).attr("fill", "#111")
        .text("DNA Meth. (\u00df)");
});

// legend
var legendColors = [RED, BLUE];
legendLabels.forEach(function(t, i) {
    var y0 = 42 + i * 23.5;
    svg.append("rect").attr("x", 135).attr("y", y0).attr("width", 25).attr("height", 23)
        .attr("fill", "#f2f2f2").attr("stroke", "#555").attr("stroke-width", 1);
    svg.append("circle").attr("cx", 147.5).attr("cy", y0 + 11.5).attr("r", 1.6)
        .attr("fill", legendColors[i]);
    svg.append("text").attr("x", 165).attr("y", y0 + 17)
        .attr("font-size", 15).attr("fill", "#111").text(t);
});
</script>
</body>
</html>
